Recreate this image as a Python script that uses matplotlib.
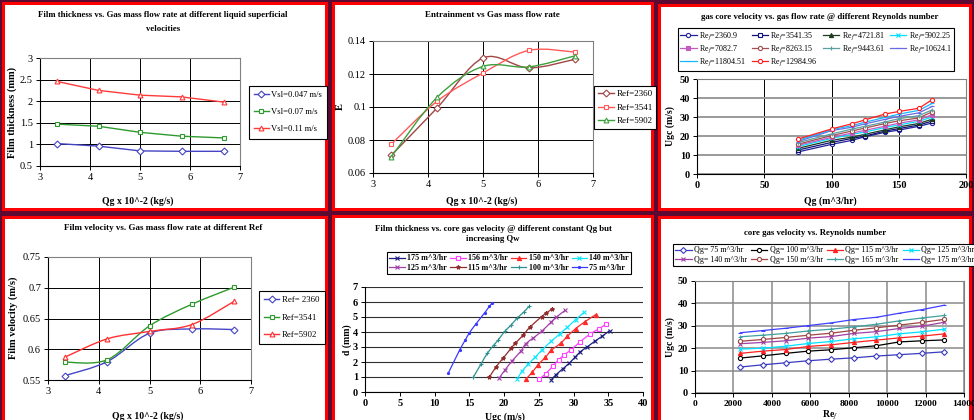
import numpy as np
import matplotlib
matplotlib.use('Agg')
import matplotlib.pyplot as plt
from matplotlib.path import Path
from matplotlib.patches import PathPatch, Rectangle
from matplotlib.lines import Line2D

# ---- data ----
qg_mass = [3.33, 4.17, 5.0, 5.83, 6.67]

# film thickness (mm) at different liquid superficial velocity
thk_vsl047 = [1.02, 0.96, 0.85, 0.84, 0.84]
thk_vsl07 = [1.47, 1.42, 1.28, 1.19, 1.15]
thk_vsl11 = [2.46, 2.25, 2.14, 2.10, 1.98]

# entrainment E
entr_2360 = [0.0707, 0.0996, 0.1297, 0.1237, 0.1289]
entr_3541 = [0.0774, 0.1036, 0.1206, 0.1343, 0.1333]
entr_5902 = [0.0697, 0.1060, 0.1246, 0.1243, 0.1310]

# film velocity (m/s)
fvel_2360 = [0.557, 0.580, 0.626, 0.633, 0.632]
fvel_3541 = [0.579, 0.583, 0.638, 0.673, 0.701]
fvel_5902 = [0.587, 0.617, 0.629, 0.640, 0.678]

# core gas velocity Ugc (m/s): one row per gas flow rate, one column per Re_f
re_f = [2360.9, 3541.35, 4721.81, 5902.25, 7082.7, 8263.15, 9443.61, 10624.1, 11804.51, 12984.96]
re_labels = ['2360.9', '3541.35', '4721.81', '5902.25', '7082.7',
             '8263.15', '9443.61', '10624.1', '11804.51', '12984.96']
qg_vol = [75, 100, 115, 125, 140, 150, 165, 175]
ugc_q75 = [11.6, 12.6, 13.5, 14.4, 15.1, 15.7, 16.5, 17.1, 17.7, 18.4]
ugc_q100 = [15.6, 16.6, 17.7, 18.7, 19.3, 20.2, 21.1, 22.8, 23.3, 23.7]
ugc_q115 = [17.7, 18.7, 19.4, 20.8, 21.5, 22.6, 23.6, 24.6, 25.4, 26.4]
ugc_q125 = [19.6, 20.0, 20.9, 22.1, 23.0, 24.2, 25.1, 26.4, 27.3, 28.5]
ugc_q140 = [22.0, 22.6, 23.3, 24.5, 25.2, 26.6, 27.4, 28.8, 29.8, 31.6]
ugc_q150 = [23.1, 23.9, 24.8, 25.8, 26.7, 28.0, 29.1, 30.3, 31.5, 32.9]
ugc_q165 = [25.1, 25.8, 26.6, 27.7, 28.5, 29.5, 30.7, 32.2, 33.5, 34.6]
ugc_q175 = [26.9, 27.9, 28.9, 30.1, 31.3, 32.8, 33.8, 35.6, 37.2, 39.2]
ugc_rows = [ugc_q75, ugc_q100, ugc_q115, ugc_q125, ugc_q140, ugc_q150, ugc_q165, ugc_q175]

# film thickness d (mm) vs core gas velocity at constant Qg
p5_labels = ['175 m^3/hr', '156 m^3/hr', '150 m^3/hr', '140 m^3/hr',
             '125 m^3/hr', '115 m^3/hr', '100 m^3/hr', '75 m^3/hr']
u_175 = [26.8, 27.5, 28.5, 29.4, 30.2, 31.0, 31.95, 33.05, 34.1, 35.2]
d_175 = [0.82, 1.16, 1.56, 1.93, 2.31, 2.69, 3.0, 3.38, 3.71, 4.09]
u_156 = [25.1, 26.0, 27.0, 27.9, 28.7, 29.6, 31.0, 32.4, 33.7, 34.7]
d_156 = [0.87, 1.22, 1.71, 2.16, 2.49, 2.8, 3.36, 3.87, 4.22, 4.53]
u_150 = [23.2, 24.1, 24.9, 25.96, 26.8, 28.2, 29.1, 30.3, 31.6, 33.2]
d_150 = [0.89, 1.33, 1.82, 2.31, 2.78, 3.27, 3.71, 4.22, 4.67, 5.16]
u_140 = [21.9, 22.6, 23.5, 24.5, 25.5, 26.8, 28.0, 29.1, 30.3, 31.5]
d_140 = [0.89, 1.38, 1.87, 2.33, 2.82, 3.38, 3.87, 4.31, 4.82, 5.31]
u_125 = [19.3, 20.1, 21.1, 22.4, 23.1, 24.2, 25.4, 26.8, 27.5, 28.8]
d_125 = [0.93, 1.44, 2.04, 2.71, 3.2, 3.6, 4.04, 4.67, 4.98, 5.44]
u_115 = [17.9, 18.8, 19.9, 21.05, 21.65, 22.75, 23.7, 25.4, 26.1, 26.97]
d_115 = [0.98, 1.64, 2.27, 2.93, 3.27, 3.78, 4.31, 5.02, 5.27, 5.56]
u_100 = [15.6, 16.7, 17.6, 18.6, 19.2, 20.2, 20.98, 21.9, 22.85, 23.6]
d_100 = [1.0, 1.87, 2.58, 3.16, 3.49, 4.09, 4.44, 4.93, 5.33, 5.71]
u_75 = [12.0, 13.6, 14.4, 15.0, 16.0, 17.2, 17.9, 18.3]
d_75 = [1.27, 2.78, 3.44, 3.93, 4.56, 5.27, 5.71, 5.93]

W, H = 974, 420
plt.rcParams['font.family'] = ['Liberation Serif', 'DejaVu Serif']
plt.rcParams['mathtext.fontset'] = 'stix'

fig = plt.figure(figsize=(W / 100, H / 100), dpi=100)
fig.patch.set_facecolor('#5c0a32')


def fx(x):
    return x / W


def fy(y):
    return 1 - y / H


def panel(x0, y0, x1, y1):
    fig.patches.append(Rectangle((fx(x0 - 3), fy(y1 + 3)), (x1 - x0 + 6) / W, (y1 - y0 + 6) / H,
                                 transform=fig.transFigure, fc='#ff0000', ec='none', zorder=-3))
    fig.patches.append(Rectangle((fx(x0), fy(y1)), (x1 - x0) / W, (y1 - y0) / H,
                                 transform=fig.transFigure, fc='white', ec='none', zorder=-2))


def axes_at(x0, y0, x1, y1):
    ax = fig.add_axes([fx(x0), fy(y1), (x1 - x0) / W, (y1 - y0) / H])
    ax.set_facecolor('white')
    ax.tick_params(direction='out', length=3, width=0.7, labelsize=7.5, pad=2)
    for s in ['left', 'bottom']:
        ax.spines[s].set_color('black')
        ax.spines[s].set_linewidth(0.8)
    for s in ['top', 'right']:
        ax.spines[s].set_color('#808080')
        ax.spines[s].set_linewidth(0.8)
    return ax


def bold_ticks(ax):
    for lab in ax.get_xticklabels() + ax.get_yticklabels():
        lab.set_fontweight('bold')


def smooth(ax, x, y, color, lw=1.0):
    pts = np.column_stack([x, y]).astype(float)
    n = len(pts)
    verts = [pts[0]]
    codes = [Path.MOVETO]
    for i in range(n - 1):
        p0 = pts[max(i - 1, 0)]
        p1 = pts[i]
        p2 = pts[i + 1]
        p3 = pts[min(i + 2, n - 1)]
        verts += [p1 + (p2 - p0) / 6, p2 - (p3 - p1) / 6, p2]
        codes += [Path.CURVE4] * 3
    ax.add_patch(PathPatch(Path(verts, codes), fill=False, edgecolor=color, lw=lw, zorder=2))


def text(x, y, s, size=7, bold=True, rot=0):
    fig.text(fx(x), fy(y), s, ha='center', va='center', fontsize=size,
             fontweight='bold' if bold else 'normal', rotation=rot)


def row_major(items, ncol):
    # excel fills legend rows first, matplotlib fills columns first
    return [items[i] for c in range(ncol) for i in range(c, len(items), ncol)]


def legend(handles, labels, x0, y0, size=7, ncol=1, bold=False, **kw):
    if ncol > 1:
        handles = row_major(handles, ncol)
        labels = row_major(labels, ncol)
    leg = fig.legend(handles, labels, loc='upper left', bbox_to_anchor=(fx(x0), fy(y0)),
                     bbox_transform=fig.transFigure, borderaxespad=0, fancybox=False,
                     edgecolor='black', framealpha=1, ncol=ncol, numpoints=1,
                     prop={'size': size, 'weight': 'bold' if bold else 'normal'}, **kw)
    leg.get_frame().set_linewidth(0.8)
    return leg


def mk(color, marker, hollow=True, ms=4):
    return dict(color=color, marker=marker, ms=ms, mew=0.8,
                mfc='white' if hollow else color, mec=color)


# ---- panel frames ----
panel(5, 5, 325, 208)
panel(335, 5, 651, 208)
panel(661, 7, 969, 208)
panel(5, 219, 325, 430)
panel(335, 218, 651, 430)
panel(661, 219, 969, 430)

# ---- 1: film thickness ----
ax = axes_at(40, 58, 240, 166)
ax.grid(True, color='black', lw=0.7)
ax.set_axisbelow(True)
s1 = [(thk_vsl047, '#4444c4', 'D', 'Vsl=0.047 m/s'),
      (thk_vsl07, '#2e9a2e', 's', 'Vsl=0.07 m/s'),
      (thk_vsl11, '#ff3a3a', '^', 'Vsl=0.11 m/s')]
h = []
for yv, c, m, lab in s1:
    h += ax.plot(qg_mass, yv, lw=1.0, **mk(c, m, ms=3.5))
ax.set_xlim(3, 7)
ax.set_ylim(0.5, 3)
ax.set_xticks([3, 4, 5, 6, 7])
ax.set_yticks(np.arange(0.5, 3.01, 0.5))
ax.set_yticklabels(['0.5', '1', '1.5', '2', '2.5', '3'])
legend(h, [s[3] for s in s1], 249, 86, size=6.2, labelspacing=1.05, handlelength=1.7,
       borderpad=0.6, handletextpad=0.3)
text(163, 15, 'Film thickness vs. Gas mass flow rate at different liquid superficial', size=6.3)
text(163, 29, 'velocities', size=6.3)
text(138, 201, 'Qg x 10^-2 (kg/s)', size=7)
text(12, 112, 'Film thickness (mm)', size=7.5, rot=90)

# ---- 2: entrainment ----
ax = axes_at(373, 41, 593, 173)
ax.grid(True, color='black', lw=0.7)
ax.set_axisbelow(True)
s2 = [(entr_2360, '#a04646', 'D', 'Ref=2360'),
      (entr_3541, '#ff5a5a', 's', 'Ref=3541'),
      (entr_5902, '#3ea03e', '^', 'Ref=5902')]
h = []
for yv, c, m, lab in s2:
    smooth(ax, qg_mass, yv, c)
    ax.plot(qg_mass, yv, ls='none', **mk(c, m, ms=3.5))
    h.append(Line2D([], [], lw=1.0, **mk(c, m, ms=3.5)))
ax.set_xlim(3, 7)
ax.set_ylim(0.06, 0.14)
ax.set_xticks([3, 4, 5, 6, 7])
ax.set_yticks([0.06, 0.08, 0.1, 0.12, 0.14])
ax.set_yticklabels(['0.06', '0.08', '0.1', '0.12', '0.14'])
legend(h, [s[3] for s in s2], 594, 86, size=6.5, labelspacing=0.6, handlelength=1.8,
       borderpad=0.4, handletextpad=0.3)
text(492, 15, 'Entrainment vs Gas mass flow rate', size=6.5)
text(482, 201, 'Qg x 10^-2 (kg/s)', size=7)
text(340, 107, 'E', size=7.5, rot=90)

# ---- 3: core velocity vs gas flow rate ----
ax = axes_at(697, 79, 966, 174)
ax.yaxis.grid(True, color='#9a9a9a', lw=1.4)
ax.xaxis.grid(True, color='black', lw=0.7)
ax.set_axisbelow(True)
s3 = [('#22229a', 'o', True), ('#10107a', 's', True), ('#1e3a1e', '^', False),
      ('#00e0ff', 'x', True), ('#c25ac2', 's', False), ('#a05050', 'o', True),
      ('#5aa0a0', '+', True), ('#6a6ae6', '_', True), ('#18b8ff', '_', True),
      ('#ff2020', 'o', True)]
h = []
for j, (c, m, hol) in enumerate(s3):
    yv = [row[j] for row in ugc_rows]
    h += ax.plot(qg_vol, yv, lw=0.9, **mk(c, m, hollow=hol, ms=3))
ax.set_xlim(0, 200)
ax.set_ylim(0, 50)
ax.set_xticks([0, 50, 100, 150, 200])
ax.set_yticks(range(0, 51, 10))
bold_ticks(ax)
legend(h, ['Re$_f$=' + r for r in re_labels], 678, 28, size=5.8, ncol=4, labelspacing=0.15,
       handlelength=2.0, columnspacing=0.7, borderpad=0.3, handletextpad=0.3)
text(820, 17, 'gas core velocity vs. gas flow rate @ different Reynolds number', size=6.3)
text(830, 201, 'Qg (m^3/hr)', size=7)
text(670, 126, 'Ugc (m/s)', size=7, rot=90)

# ---- 4: film velocity ----
ax = axes_at(48, 257, 251, 380)
ax.grid(True, color='black', lw=0.7)
ax.set_axisbelow(True)
s4 = [(fvel_2360, '#4646c6', 'D', 'Ref= 2360'),
      (fvel_3541, '#2e9a2e', 's', 'Ref=3541'),
      (fvel_5902, '#ff3030', '^', 'Ref=5902')]
h = []
for yv, c, m, lab in s4:
    smooth(ax, qg_mass, yv, c)
    ax.plot(qg_mass, yv, ls='none', **mk(c, m, ms=3.5))
    h.append(Line2D([], [], lw=1.0, **mk(c, m, ms=3.5)))
ax.set_xlim(3, 7)
ax.set_ylim(0.55, 0.75)
ax.set_xticks([3, 4, 5, 6, 7])
ax.set_yticks([0.55, 0.6, 0.65, 0.7, 0.75])
ax.set_yticklabels(['0.55', '0.6', '0.65', '0.7', '0.75'])
legend(h, [s[3] for s in s4], 259, 291, size=6.3, labelspacing=1.05, handlelength=1.7,
       borderpad=0.6, handletextpad=0.3)
text(163, 228, 'Film velocity vs. Gas mass flow rate at different Ref', size=6.5)
text(148, 416, 'Qg x 10^-2 (kg/s)', size=7)
text(13, 318, 'Film velocity (m/s)', size=7.5, rot=90)

# ---- 5: film thickness vs core gas velocity ----
ax = axes_at(365, 287, 643, 392)
ax.yaxis.grid(True, color='#303030', lw=0.8)
ax.set_axisbelow(True)
ax.spines['top'].set_visible(False)
ax.spines['right'].set_visible(False)
s5 = [(u_175, d_175, '#1e1e80', 'x', True),
      (u_156, d_156, '#ff40ff', 's', True),
      (u_150, d_150, '#ff2a2a', '^', False),
      (u_140, d_140, '#10e6ff', 'x', True),
      (u_125, d_125, '#a040a8', 'x', True),
      (u_115, d_115, '#902c2c', '*', False),
      (u_100, d_100, '#2a9090', '+', True),
      (u_75, d_75, '#3a3aff', '.', False)]
h = []
for u, d, c, m, hol in s5:
    smooth(ax, u, d, c, lw=0.9)
    ax.plot(u, d, ls='none', **mk(c, m, hollow=hol, ms=3))
    h.append(Line2D([], [], lw=0.9, **mk(c, m, hollow=hol, ms=3)))
ax.set_xlim(0, 40)
ax.set_ylim(0, 7)
ax.set_xticks(range(0, 41, 5))
ax.set_yticks(range(0, 8))
bold_ticks(ax)
legend(h, p5_labels, 387, 252, size=5.8, ncol=4, bold=True, labelspacing=0.2,
       handlelength=1.9, columnspacing=0.4, borderpad=0.3, handletextpad=0.3)
text(493, 229, 'Film thickness vs. core gas velocity @ different constant Qg but', size=6.3)
text(493, 239, 'increasing Qw', size=6.3)
text(505, 417, 'Ugc (m/s)', size=7)
text(347, 340, 'd (mm)', size=7, rot=90)

# ---- 6: core gas velocity vs Reynolds ----
ax = axes_at(695, 281, 964, 393)
ax.grid(True, color='#8a8a8a', lw=1.1)
ax.set_axisbelow(True)
s6 = [('#3a3ac0', 'D', True), ('#000000', 'o', True), ('#ff2020', '^', False),
      ('#00e0ff', 'x', True), ('#a040a8', 'x', True), ('#a04646', 'o', True),
      ('#40a0a0', '+', True), ('#4040ff', '_', True)]
h = []
for row, (c, m, hol) in zip(ugc_rows, s6):
    h += ax.plot(re_f, row, lw=0.9, **mk(c, m, hollow=hol, ms=3))
ax.set_xlim(0, 14000)
ax.set_ylim(0, 50)
ax.set_xticks(range(0, 14001, 2000))
ax.set_yticks(range(0, 51, 10))
ax.tick_params(axis='x', labelsize=6.8)
bold_ticks(ax)
legend(h, ['Qg= %d m^3/hr' % q for q in qg_vol], 673, 244, size=5.8, ncol=4,
       labelspacing=0.2, handlelength=2.0, columnspacing=0.5, borderpad=0.3, handletextpad=0.3)
text(815, 233, 'core gas velocity vs. Reynolds number', size=6.3)
text(830, 415, 'Re$_f$', size=7)
text(670, 337, 'Ugc (m/s)', size=7, rot=90)

fig.savefig('out.png', dpi=100, facecolor=fig.get_facecolor())
